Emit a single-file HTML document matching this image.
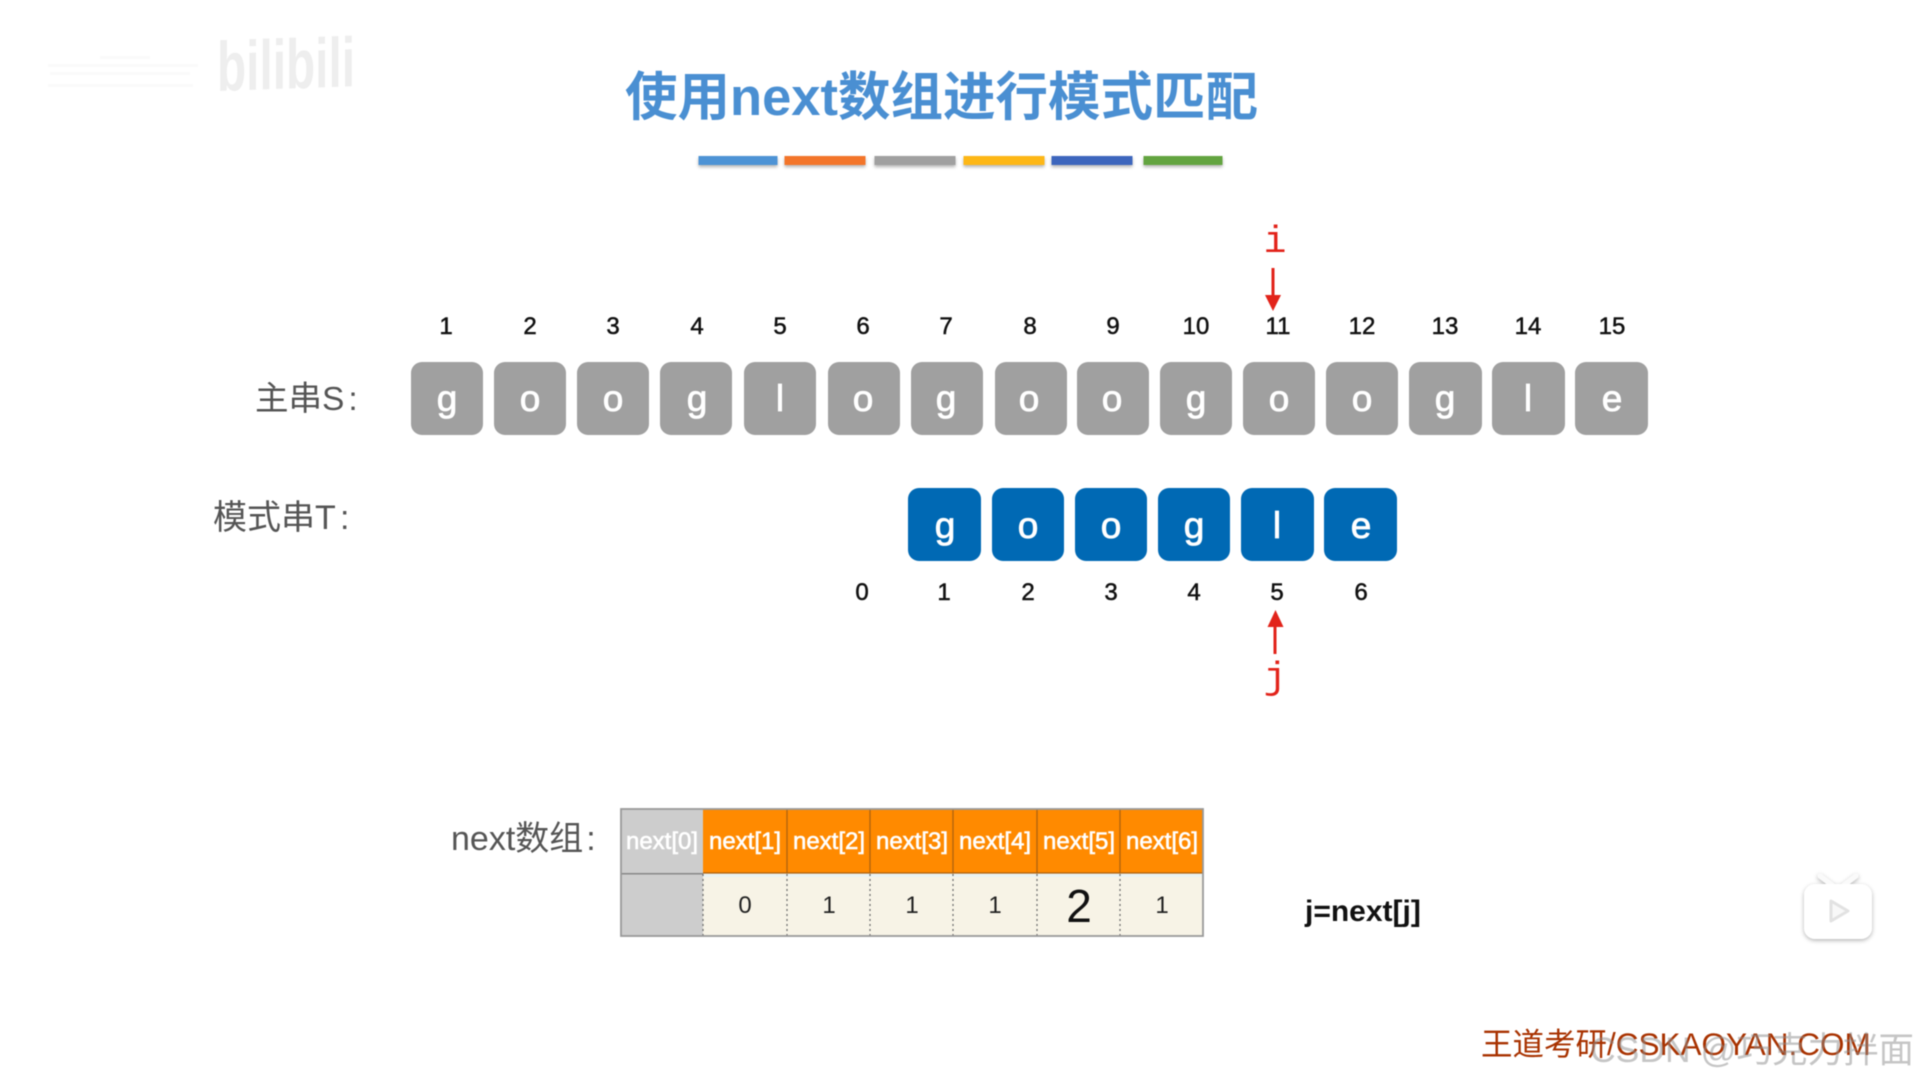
<!DOCTYPE html>
<html lang="zh">
<head>
<meta charset="utf-8">
<title>使用next数组进行模式匹配</title>
<style>
html,body{margin:0;padding:0;background:#fff;width:1919px;height:1079px;overflow:hidden}
svg{display:block;filter:blur(.45px)}
text{font-family:"Liberation Sans","Noto Sans CJK SC",sans-serif}
.n{font-size:24px;fill:#111;text-anchor:middle;stroke:#111;stroke-width:.5px}
.l{font-size:37px;fill:#fff;text-anchor:middle;stroke:#fff;stroke-width:.8px}
.lab{font-size:34px;fill:#555}
.h{font-size:24px;fill:#fff;text-anchor:middle;stroke:#fff;stroke-width:.6px}
.v{font-size:24px;fill:#222;text-anchor:middle}
.r{font-family:"Liberation Mono",monospace;font-size:38px;fill:#e2231a;text-anchor:middle}
</style>
</head>
<body>
<svg width="1919" height="1079" viewBox="0 0 1919 1079" xmlns="http://www.w3.org/2000/svg">
<defs>
<filter id="sh" x="-10%" y="-50%" width="120%" height="220%"><feDropShadow dx="0" dy="2" stdDeviation="1.5" flood-color="#000" flood-opacity=".3"/></filter>
<filter id="sh2" x="-20%" y="-20%" width="140%" height="140%"><feDropShadow dx="0" dy="1.5" stdDeviation="2" flood-color="#000" flood-opacity=".3"/></filter>
</defs>
<rect width="1919" height="1079" fill="#fff"/>

<!-- watermark top-left -->
<g fill="#fafafa">
<rect x="48" y="64" width="150" height="3"/><rect x="50" y="72" width="140" height="3"/><rect x="48" y="84" width="145" height="3"/><rect x="100" y="56" width="50" height="3"/>
</g>
<text transform="translate(217 91) skewY(-2)" textLength="138" lengthAdjust="spacingAndGlyphs" style="font-size:70px;font-weight:700" fill="#eeeeee">bilibili</text>

<!-- title -->
<text x="625" y="115" style="font-size:52.5px;font-weight:700" fill="#4a8fd2">使用next数组进行模式匹配</text>

<!-- colour bars -->
<g filter="url(#sh)">
<rect x="700" y="156" width="79" height="9" fill="#4d93d5" transform="translate(-1.5 0)"/>
<rect x="786" y="156" width="81" height="9" fill="#f37429" transform="translate(-1.5 0)"/>
<rect x="876" y="156" width="81" height="9" fill="#a0a0a0" transform="translate(-1.5 0)"/>
<rect x="966" y="156" width="81" height="9" fill="#fdb714" transform="translate(-2.5 0)"/>
<rect x="1054" y="156" width="81" height="9" fill="#3c66bd" transform="translate(-2.5 0)"/>
<rect x="1146" y="156" width="79" height="9" fill="#63a43f" transform="translate(-2.5 0)"/>
</g>

<!-- i pointer -->
<text class="r" x="1275" y="252">i</text>
<rect x="1274.5" y="268" width="3" height="28" fill="#e2231a" transform="translate(-3 0)"/>
<polygon points="1268,295 1284,295 1276,311" fill="#e2231a" transform="translate(-3 0)"/>

<!-- top indices -->
<text class="n" x="446" y="334">1</text>
<text class="n" x="530" y="334">2</text>
<text class="n" x="613" y="334">3</text>
<text class="n" x="697" y="334">4</text>
<text class="n" x="780" y="334">5</text>
<text class="n" x="863" y="334">6</text>
<text class="n" x="946" y="334">7</text>
<text class="n" x="1030" y="334">8</text>
<text class="n" x="1113" y="334">9</text>
<text class="n" x="1196" y="334">10</text>
<text class="n" x="1278" y="334">11</text>
<text class="n" x="1362" y="334">12</text>
<text class="n" x="1445" y="334">13</text>
<text class="n" x="1528" y="334">14</text>
<text class="n" x="1612" y="334">15</text>

<!-- main string -->
<text class="lab" x="255" y="410" style="font-size:33.5px">主串S<tspan dx="4">:</tspan></text>
<g fill="#a0a0a0">
<rect x="411" y="362" width="72" height="73" rx="11"/>
<rect x="494" y="362" width="72" height="73" rx="11"/>
<rect x="577" y="362" width="72" height="73" rx="11"/>
<rect x="660" y="362" width="72" height="73" rx="11"/>
<rect x="744" y="362" width="72" height="73" rx="11"/>
<rect x="828" y="362" width="72" height="73" rx="11"/>
<rect x="911" y="362" width="72" height="73" rx="11"/>
<rect x="995" y="362" width="72" height="73" rx="11"/>
<rect x="1077" y="362" width="72" height="73" rx="11"/>
<rect x="1160" y="362" width="72" height="73" rx="11"/>
<rect x="1243" y="362" width="72" height="73" rx="11"/>
<rect x="1326" y="362" width="72" height="73" rx="11"/>
<rect x="1409" y="362" width="73" height="73" rx="11"/>
<rect x="1492" y="362" width="73" height="73" rx="11"/>
<rect x="1575" y="362" width="73" height="73" rx="11"/>
</g>
<text class="l" x="447" y="411">g</text>
<text class="l" x="530" y="411">o</text>
<text class="l" x="613" y="411">o</text>
<text class="l" x="697" y="411">g</text>
<text class="l" x="780" y="411">l</text>
<text class="l" x="863" y="411">o</text>
<text class="l" x="946" y="411">g</text>
<text class="l" x="1029" y="411">o</text>
<text class="l" x="1112" y="411">o</text>
<text class="l" x="1196" y="411">g</text>
<text class="l" x="1279" y="411">o</text>
<text class="l" x="1362" y="411">o</text>
<text class="l" x="1445" y="411">g</text>
<text class="l" x="1528" y="411">l</text>
<text class="l" x="1612" y="411">e</text>

<!-- pattern string -->
<text class="lab" x="213" y="529">模式串T<tspan dx="8">:</tspan></text>
<g fill="#0069b4">
<rect x="908" y="488" width="73" height="73" rx="11"/>
<rect x="992" y="488" width="72" height="73" rx="11"/>
<rect x="1075" y="488" width="72" height="73" rx="11"/>
<rect x="1158" y="488" width="72" height="73" rx="11"/>
<rect x="1241" y="488" width="73" height="73" rx="11"/>
<rect x="1324" y="488" width="73" height="73" rx="11"/>
</g>
<text class="l" x="945" y="538">g</text>
<text class="l" x="1028" y="538">o</text>
<text class="l" x="1111" y="538">o</text>
<text class="l" x="1194" y="538">g</text>
<text class="l" x="1277" y="538">l</text>
<text class="l" x="1361" y="538">e</text>

<!-- bottom indices -->
<text class="n" x="862" y="600">0</text>
<text class="n" x="944" y="600">1</text>
<text class="n" x="1028" y="600">2</text>
<text class="n" x="1111" y="600">3</text>
<text class="n" x="1194" y="600">4</text>
<text class="n" x="1277" y="600">5</text>
<text class="n" x="1361" y="600">6</text>

<!-- j pointer -->
<polygon points="1278,610 1286,627 1270,627" fill="#e2231a" transform="translate(-2.5 0)"/>
<rect x="1273.5" y="626" width="3" height="28" fill="#e2231a"/>
<text class="r" x="1275" y="688">j</text>

<!-- next table -->
<text class="lab" x="451" y="850">next数组<tspan dx="3">:</tspan></text>
<rect x="703" y="809" width="500" height="64" fill="#ff8a00"/>
<rect x="703" y="873" width="500" height="63" fill="#f7f3e6"/>
<rect x="703" y="874" width="500" height="3" fill="#eaf3f3"/>
<rect x="621" y="809" width="82" height="127" fill="#cdcdcd"/>
<rect x="621" y="873" width="82" height="1.5" fill="#888"/>
<g stroke="#a86010" stroke-width="1.2">
<line x1="787" y1="809" x2="787" y2="873"/><line x1="870" y1="809" x2="870" y2="873"/><line x1="953" y1="809" x2="953" y2="873"/><line x1="1037" y1="809" x2="1037" y2="873"/><line x1="1120" y1="809" x2="1120" y2="873"/>
</g>
<line x1="703" y1="873" x2="1203" y2="873" stroke="#a86010" stroke-width="1.2"/>
<g stroke="#666" stroke-width="1.2" stroke-dasharray="2 3">
<line x1="703" y1="874" x2="703" y2="936"/><line x1="787" y1="874" x2="787" y2="936"/><line x1="870" y1="874" x2="870" y2="936"/><line x1="953" y1="874" x2="953" y2="936"/><line x1="1037" y1="874" x2="1037" y2="936"/><line x1="1120" y1="874" x2="1120" y2="936"/>
</g>
<rect x="621" y="809" width="582" height="127" fill="none" stroke="#999" stroke-width="1.8"/>
<text class="h" x="662" y="849">next[0]</text>
<text class="h" x="745" y="849">next[1]</text>
<text class="h" x="829" y="849">next[2]</text>
<text class="h" x="912" y="849">next[3]</text>
<text class="h" x="995" y="849">next[4]</text>
<text class="h" x="1079" y="849">next[5]</text>
<text class="h" x="1162" y="849">next[6]</text>
<text class="v" x="745" y="913">0</text>
<text class="v" x="829" y="913">1</text>
<text class="v" x="912" y="913">1</text>
<text class="v" x="995" y="913">1</text>
<text class="v" x="1079" y="922" style="font-size:46px;fill:#111">2</text>
<text class="v" x="1162" y="913">1</text>

<!-- formula -->
<text x="1305" y="921" style="font-size:30px;font-weight:700" fill="#111">j=next[j]</text>

<!-- footer -->
<text x="1481" y="1055" style="font-size:31.5px" fill="#a83200">王道考研/CSKAOYAN.COM</text>
<text x="1590" y="1062" style="font-size:35.5px" fill="#8c8c8c" fill-opacity=".5">CSDN @巧克力拌面</text>

<!-- play badge -->
<g filter="url(#sh2)">
<path d="M1820 876 L1832 885 M1856 876 L1844 885" stroke="#fafafa" stroke-width="5" stroke-linecap="round"/>
<rect x="1804" y="884" width="68" height="55" rx="11" fill="#fff"/>
</g>
<path d="M1831 901 L1848 911 L1831 921 Z" fill="#f8f8f8" stroke="#e2e2e2" stroke-width="3" stroke-linejoin="round"/>
</svg>
</body>
</html>
